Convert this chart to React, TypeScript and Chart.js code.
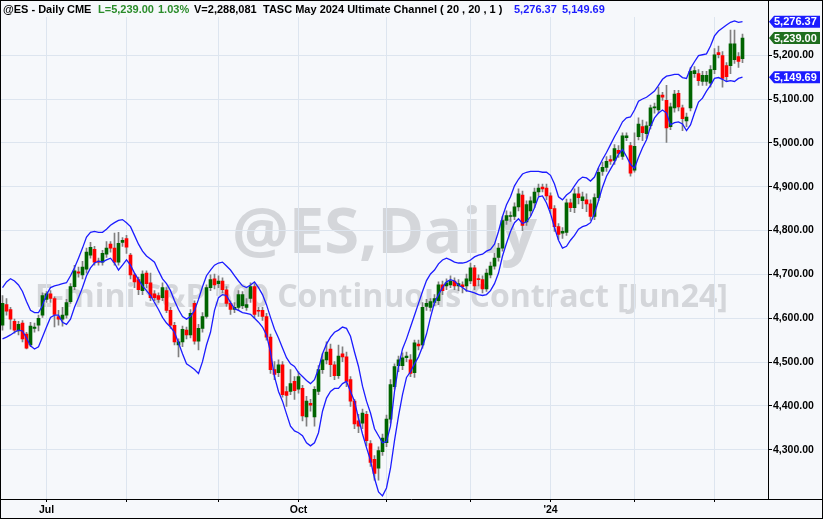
import React, { useEffect, useRef } from 'react';
import { Chart, registerables } from 'chart.js';

Chart.register(...registerables);

// ---------- data (daily bars, index 0 = mid June 2023) ----------
const opens = [
  4584, 4631, 4620, 4593, 4571, 4589, 4564, 4539, 4577, 4584,
  4607, 4643, 4656, 4645, 4604, 4598, 4607, 4638, 4672, 4706,
  4699, 4712, 4744, 4757, 4730, 4728, 4746, 4769, 4760, 4728,
  4773, 4782, 4744, 4699, 4688, 4663, 4703, 4681, 4656, 4652,
  4647, 4663, 4618, 4584, 4539, 4546, 4573, 4562, 4634, 4548,
  4577, 4604, 4670, 4690, 4679, 4685, 4665, 4634, 4620, 4625,
  4629, 4625, 4645, 4672, 4618, 4618, 4604, 4557, 4483, 4476,
  4494, 4433, 4433, 4456, 4438, 4440, 4375, 4406, 4375, 4433,
  4483, 4505, 4530, 4494, 4469, 4519, 4512, 4460, 4411, 4366,
  4361, 4381, 4314, 4278, 4258, 4296, 4316, 4370, 4444, 4492,
  4492, 4510, 4505, 4476, 4541, 4539, 4627, 4625, 4636, 4640,
  4676, 4674, 4676, 4685, 4674, 4676, 4674, 4685, 4715, 4690,
  4688, 4667, 4699, 4719, 4739, 4760, 4823, 4832, 4832, 4854,
  4881, 4820, 4845, 4863, 4888, 4899, 4897, 4879, 4850, 4809,
  4794, 4796, 4863, 4852, 4884, 4868, 4870, 4861, 4832, 4875,
  4935, 4944, 4962, 4960, 4983, 4969, 5012, 4994, 4938, 5014,
  5037, 5021, 5039, 5080, 5075, 5109, 5097, 5037, 5080, 5113,
  5080, 5050, 5080, 5158, 5158, 5140, 5140, 5136, 5167, 5206,
  5199, 5176, 5176, 5190, 5197, 5192,
];
const highs = [
  4652, 4645, 4625, 4598, 4593, 4595, 4568, 4591, 4589, 4607,
  4658, 4661, 4663, 4649, 4618, 4625, 4643, 4679, 4721, 4717,
  4730, 4760, 4773, 4764, 4737, 4755, 4775, 4775, 4794, 4796,
  4784, 4789, 4748, 4703, 4694, 4708, 4708, 4703, 4663, 4658,
  4681, 4670, 4625, 4591, 4553, 4582, 4580, 4620, 4640, 4586,
  4613, 4676, 4699, 4701, 4697, 4692, 4672, 4640, 4636, 4663,
  4661, 4645, 4681, 4679, 4625, 4625, 4611, 4564, 4501, 4505,
  4501, 4444, 4483, 4467, 4478, 4447, 4422, 4415, 4444, 4492,
  4519, 4546, 4541, 4501, 4539, 4535, 4523, 4467, 4415, 4381,
  4393, 4388, 4321, 4287, 4307, 4336, 4379, 4460, 4496, 4514,
  4521, 4523, 4517, 4550, 4550, 4636, 4643, 4645, 4654, 4683,
  4685, 4690, 4697, 4692, 4688, 4683, 4701, 4726, 4721, 4699,
  4697, 4712, 4728, 4748, 4771, 4832, 4845, 4843, 4863, 4895,
  4890, 4868, 4877, 4897, 4906, 4906, 4906, 4886, 4857, 4816,
  4807, 4872, 4872, 4895, 4899, 4888, 4884, 4870, 4884, 4942,
  4956, 4969, 4971, 4996, 4994, 5023, 5023, 5001, 5023, 5057,
  5052, 5048, 5086, 5091, 5127, 5115, 5131, 5091, 5120, 5120,
  5086, 5068, 5172, 5174, 5167, 5163, 5163, 5176, 5215, 5221,
  5208, 5183, 5257, 5257, 5206, 5248,
];
const lows = [
  4573, 4607, 4575, 4566, 4562, 4546, 4530, 4535, 4568, 4571,
  4602, 4636, 4636, 4580, 4584, 4582, 4600, 4634, 4665, 4694,
  4690, 4703, 4737, 4721, 4721, 4721, 4739, 4751, 4721, 4721,
  4764, 4748, 4690, 4670, 4654, 4654, 4670, 4640, 4640, 4636,
  4640, 4613, 4577, 4539, 4512, 4535, 4553, 4555, 4541, 4528,
  4568, 4600, 4663, 4667, 4670, 4658, 4627, 4609, 4613, 4618,
  4622, 4618, 4636, 4600, 4604, 4595, 4550, 4474, 4460, 4467,
  4420, 4399, 4426, 4415, 4429, 4366, 4354, 4388, 4354, 4426,
  4474, 4496, 4467, 4460, 4463, 4501, 4444, 4399, 4348, 4339,
  4348, 4309, 4262, 4231, 4231, 4287, 4307, 4361, 4438, 4478,
  4483, 4501, 4467, 4465, 4528, 4532, 4618, 4616, 4629, 4631,
  4654, 4665, 4670, 4665, 4663, 4658, 4661, 4679, 4665, 4674,
  4658, 4661, 4692, 4712, 4730, 4753, 4814, 4821, 4825, 4845,
  4800, 4812, 4834, 4852, 4879, 4888, 4870, 4839, 4798, 4780,
  4782, 4789, 4843, 4841, 4861, 4850, 4843, 4823, 4825, 4868,
  4926, 4935, 4951, 4951, 4967, 4962, 5005, 4924, 4933, 5007,
  5005, 5010, 5032, 5068, 5068, 5097, 5001, 5030, 5070, 5073,
  5028, 5037, 5073, 5149, 5131, 5131, 5131, 5127, 5158, 5194,
  5127, 5140, 5158, 5181, 5172, 5183,
];
const closes = [
  4634, 4616, 4598, 4573, 4586, 4553, 4532, 4582, 4580, 4600,
  4652, 4656, 4645, 4609, 4598, 4607, 4636, 4672, 4708, 4703,
  4717, 4751, 4762, 4728, 4728, 4748, 4760, 4760, 4728, 4771,
  4778, 4762, 4699, 4683, 4665, 4701, 4679, 4647, 4647, 4643,
  4670, 4618, 4584, 4546, 4546, 4575, 4562, 4611, 4548, 4577,
  4604, 4670, 4688, 4676, 4685, 4665, 4634, 4620, 4625, 4654,
  4654, 4631, 4672, 4609, 4616, 4604, 4557, 4483, 4472, 4494,
  4426, 4424, 4451, 4435, 4467, 4377, 4411, 4402, 4438, 4483,
  4505, 4523, 4494, 4469, 4514, 4512, 4456, 4411, 4359, 4354,
  4384, 4321, 4271, 4246, 4298, 4327, 4370, 4449, 4490, 4505,
  4510, 4514, 4474, 4544, 4537, 4625, 4634, 4638, 4645, 4676,
  4663, 4681, 4685, 4674, 4679, 4672, 4690, 4715, 4674, 4688,
  4667, 4703, 4719, 4737, 4760, 4823, 4834, 4834, 4854, 4884,
  4812, 4859, 4868, 4888, 4897, 4895, 4879, 4850, 4809, 4791,
  4798, 4863, 4852, 4884, 4875, 4877, 4861, 4832, 4875, 4933,
  4944, 4958, 4958, 4987, 4976, 5016, 5016, 4931, 4992, 5043,
  5023, 5039, 5080, 5082, 5109, 5104, 5034, 5082, 5111, 5082,
  5055, 5059, 5163, 5165, 5142, 5154, 5154, 5167, 5201, 5201,
  5147, 5151, 5226, 5226, 5186, 5239,
];
const upperBand = [
  4670, 4683, 4690, 4685, 4676, 4661, 4638, 4618, 4613, 4613,
  4629, 4654, 4670, 4674, 4676, 4679, 4681, 4697, 4715, 4737,
  4760, 4785, 4796, 4798, 4796, 4796, 4803, 4812, 4818, 4823,
  4825, 4818, 4809, 4789, 4769, 4753, 4742, 4735, 4728, 4708,
  4690, 4679, 4663, 4640, 4620, 4604, 4598, 4604, 4618, 4643,
  4672, 4697, 4710, 4721, 4726, 4728, 4719, 4710, 4697, 4685,
  4674, 4670, 4676, 4683, 4670, 4654, 4631, 4602, 4575, 4555,
  4532, 4510, 4496, 4490, 4476, 4467, 4458, 4451, 4460, 4485,
  4519, 4541, 4557, 4568, 4573, 4580, 4577, 4559, 4523, 4490,
  4445, 4411, 4384, 4348, 4332, 4316, 4319, 4354, 4433, 4490,
  4530, 4553, 4580, 4607, 4634, 4661, 4686, 4701, 4710, 4724,
  4733, 4737, 4733, 4728, 4726, 4726, 4728, 4733, 4740, 4744,
  4746, 4753, 4757, 4769, 4798, 4832, 4859, 4877, 4902, 4917,
  4929, 4933, 4935, 4935, 4935, 4933, 4933, 4926, 4906, 4877,
  4870, 4881, 4888, 4902, 4915, 4922, 4920, 4913, 4922, 4944,
  4962, 4978, 4996, 5014, 5030, 5048, 5057, 5059, 5075, 5095,
  5100, 5104, 5111, 5118, 5131, 5145, 5152, 5154, 5156, 5156,
  5149, 5147, 5170, 5185, 5199, 5201, 5203, 5221, 5244, 5255,
  5262, 5269, 5275, 5278, 5275, 5276.37,
];
const lowerBand = [
  4553, 4557, 4562, 4568, 4573, 4571, 4555, 4537, 4530, 4535,
  4557, 4580, 4602, 4607, 4607, 4591, 4586, 4598, 4625, 4647,
  4670, 4697, 4715, 4726, 4730, 4728, 4733, 4737, 4726, 4710,
  4721, 4733, 4721, 4703, 4688, 4674, 4663, 4652, 4636, 4620,
  4602, 4589, 4580, 4568, 4544, 4519, 4496, 4490, 4483, 4474,
  4501, 4539, 4568, 4618, 4647, 4654, 4652, 4636, 4622, 4618,
  4613, 4611, 4609, 4600, 4591, 4580, 4562, 4523, 4467, 4433,
  4411, 4382, 4354, 4343, 4339, 4332, 4316, 4309, 4316, 4339,
  4388, 4418, 4433, 4440, 4440, 4451, 4456, 4433, 4411, 4372,
  4336, 4305, 4276, 4235, 4204, 4195, 4213, 4258, 4321, 4377,
  4426, 4465, 4478, 4496, 4512, 4535, 4564, 4602, 4636, 4654,
  4670, 4683, 4688, 4685, 4676, 4670, 4663, 4661, 4658, 4654,
  4652, 4654, 4663, 4679, 4703, 4742, 4771, 4798, 4818, 4827,
  4816, 4820, 4832, 4852, 4877, 4879, 4863, 4839, 4807, 4778,
  4760, 4764, 4778, 4789, 4803, 4809, 4812, 4818, 4839, 4868,
  4899, 4924, 4940, 4956, 4974, 4985, 4969, 4951, 4942, 4967,
  4989, 5007, 5037, 5057, 5068, 5075, 5068, 5041, 5046, 5048,
  5043, 5028, 5041, 5068, 5093, 5102, 5118, 5131, 5147, 5149,
  5145, 5140, 5142, 5140, 5147, 5149.69,
];

// month boundaries (bar index) and their axis labels
const monthTickIndex = [11, 31, 54, 74, 96, 117, 137, 158, 178];
const monthTickLabel = ['Jul', '', '', 'Oct', '', '', "'24", '', ''];
const priceTicks = [4300, 4400, 4500, 4600, 4700, 4800, 4900, 5000, 5100, 5200];

const symbolText = '@ES - Daily';
const exchangeText = 'CME';
const changeText = '1.03%';
const volumeText = 'V=2,288,081';
const studyText = 'TASC May 2024 Ultimate Channel ( 20 , 20 , 1 )';
const watermarkTitle = '@ES,Daily';
const watermarkSubtitle = 'E-mini S&P 500 Continuous Contract [Jun24]';

// ---------- style ----------
const BG = '#f6f8fb';
const GRID = '#dde5ef';
const UP = '#006400';
const DOWN = '#ff0000';
const WICK = '#808080';
const BAND = '#1c1cff';
const TAG_GREEN = '#1f6e1f';
const TEXT_GREEN = '#2a8c2a';
const FONT = "Arial, 'Liberation Sans', sans-serif";
const WM_FONT = "'Open Sans', 'DejaVu Sans', sans-serif";

const fmt = (v: number) =>
  v.toLocaleString('en-US', { minimumFractionDigits: 2, maximumFractionDigits: 2 });

function fitFont(ctx: CanvasRenderingContext2D, text: string, width: number, family: string) {
  ctx.font = `bold 100px ${family}`;
  const w = ctx.measureText(text).width;
  const size = (100 * width) / w;
  ctx.font = `bold ${size.toFixed(2)}px ${family}`;
}

const decorPlugin = {
  id: 'decor',
  beforeDraw(chart: any) {
    const { ctx, width, height } = chart;
    ctx.save();
    ctx.fillStyle = BG;
    ctx.fillRect(0, 0, width, height);
    ctx.fillStyle = '#d4d6da';
    ctx.textAlign = 'center';
    ctx.textBaseline = 'alphabetic';
    fitFont(ctx, watermarkTitle, 305, WM_FONT);
    ctx.fillText(watermarkTitle, 384.5, 253);
    fitFont(ctx, watermarkSubtitle, 693, WM_FONT);
    ctx.fillText(watermarkSubtitle, 381.5, 307);
    ctx.restore();
  },
  beforeDatasetsDraw(chart: any) {
    const { ctx, chartArea } = chart;
    ctx.save();
    ctx.fillStyle = BG;
    ctx.fillRect(chartArea.left, 0, chartArea.right - chartArea.left, 17);
    ctx.restore();
  },
  afterDraw(chart: any) {
    const { ctx, width, height, chartArea } = chart;
    const yScale = chart.scales.y;
    ctx.save();
    // axis lines and frame
    ctx.strokeStyle = '#000';
    ctx.lineWidth = 1;
    ctx.beginPath();
    ctx.moveTo(chartArea.right + 0.5, 0);
    ctx.lineTo(chartArea.right + 0.5, chartArea.bottom);
    ctx.moveTo(0, chartArea.bottom + 0.5);
    ctx.lineTo(width, chartArea.bottom + 0.5);
    ctx.stroke();
    ctx.strokeRect(0.5, 0.5, width - 1, height - 1);

    // header
    const last = closes.length - 1;
    ctx.font = `bold 11px ${FONT}`;
    ctx.textAlign = 'left';
    ctx.textBaseline = 'alphabetic';
    const header: [string, number, string][] = [
      [symbolText, 3, '#000'],
      [exchangeText, 67, '#000'],
      ['L=' + fmt(closes[last]), 98, TEXT_GREEN],
      [changeText, 158, TEXT_GREEN],
      [volumeText, 194, '#000'],
      [studyText, 263, '#000'],
      [fmt(upperBand[last]), 514, BAND],
      [fmt(lowerBand[last]), 562, BAND],
    ];
    header.forEach(([t, x, c]) => {
      ctx.fillStyle = c;
      ctx.fillText(t, x, 13);
    });

    // price tags on the axis
    const tags: [number, string][] = [
      [upperBand[last], BAND],
      [closes[last], TAG_GREEN],
      [lowerBand[last], BAND],
    ];
    const x0 = chartArea.right + 1;
    tags.forEach(([v, c]) => {
      const y = yScale.getPixelForValue(v);
      ctx.fillStyle = c;
      ctx.beginPath();
      ctx.moveTo(x0, y);
      ctx.lineTo(x0 + 5, y - 6);
      ctx.lineTo(width - 3, y - 6);
      ctx.lineTo(width - 3, y + 6);
      ctx.lineTo(x0 + 5, y + 6);
      ctx.closePath();
      ctx.fill();
      ctx.fillStyle = '#fff';
      ctx.font = `bold 11px ${FONT}`;
      ctx.textBaseline = 'middle';
      ctx.fillText(fmt(v), x0 + 5, y + 0.5);
    });
    ctx.restore();
  },
};

export default function App() {
  const ref = useRef<HTMLCanvasElement | null>(null);

  useEffect(() => {
    document.body.style.margin = '0';
    const canvas = ref.current;
    if (!canvas) return;

    const idx = closes.map((_, i) => i);
    const wickData = idx.map((i) => ({ x: i, y: [lows[i], highs[i]] }));
    const bodyData = idx.map((i) => ({ x: i, y: [opens[i], closes[i]] }));
    const bodyColors = idx.map((i) => (closes[i] >= opens[i] ? UP : DOWN));
    const upperData = idx.map((i) => ({ x: i, y: upperBand[i] }));
    const lowerData = idx.map((i) => ({ x: i, y: lowerBand[i] }));

    const chart = new Chart(canvas, {
      type: 'bar',
      data: {
        datasets: [
          {
            type: 'bar',
            data: wickData as any,
            backgroundColor: WICK,
            barThickness: 1,
            grouped: false,
            order: 3,
          } as any,
          {
            type: 'bar',
            data: bodyData as any,
            backgroundColor: bodyColors,
            barThickness: 3,
            minBarLength: 1,
            grouped: false,
            order: 2,
          } as any,
          {
            type: 'line',
            data: upperData as any,
            borderColor: BAND,
            borderWidth: 1.3,
            pointRadius: 0,
            tension: 0,
            order: 1,
          } as any,
          {
            type: 'line',
            data: lowerData as any,
            borderColor: BAND,
            borderWidth: 1.3,
            pointRadius: 0,
            tension: 0,
            order: 0,
          } as any,
        ],
      },
      options: {
        responsive: false,
        animation: false,
        devicePixelRatio: 1,
        layout: { padding: { left: 1, top: 1, right: 0, bottom: 0 } },
        plugins: { legend: { display: false }, tooltip: { enabled: false } },
        scales: {
          x: {
            type: 'linear',
            min: -0.375,
            max: 191.375,
            offset: false,
            afterBuildTicks: (scale: any) => {
              scale.ticks = monthTickIndex.map((v) => ({ value: v }));
            },
            afterFit: (scale: any) => {
              scale.height = 20;
            },
            grid: { color: GRID, offset: false, tickLength: 3, tickColor: '#000', drawTicks: true },
            border: { display: false },
            ticks: {
              autoSkip: false,
              maxRotation: 0,
              padding: 2,
              color: '#000',
              font: { family: FONT, size: 10.5, weight: 'bold' },
              callback: (value: any) => {
                const k = monthTickIndex.indexOf(Number(value));
                return k >= 0 ? monthTickLabel[k] : '';
              },
            },
          },
          y: {
            type: 'linear',
            position: 'right',
            min: 4187.8,
            max: 5309.2,
            afterBuildTicks: (scale: any) => {
              scale.ticks = priceTicks.map((v) => ({ value: v }));
            },
            afterFit: (scale: any) => {
              scale.width = 55;
            },
            grid: { color: GRID, tickLength: 4, tickColor: '#000' },
            border: { display: false },
            ticks: {
              padding: 1,
              color: '#000',
              font: { family: FONT, size: 10.5, weight: 'bold' },
              callback: (value: any) => fmt(Number(value)),
            },
          },
        },
      } as any,
      plugins: [decorPlugin],
    });

    return () => chart.destroy();
  }, []);

  return <canvas ref={ref} width={823} height={519} style={{ display: 'block' }} />;
}
